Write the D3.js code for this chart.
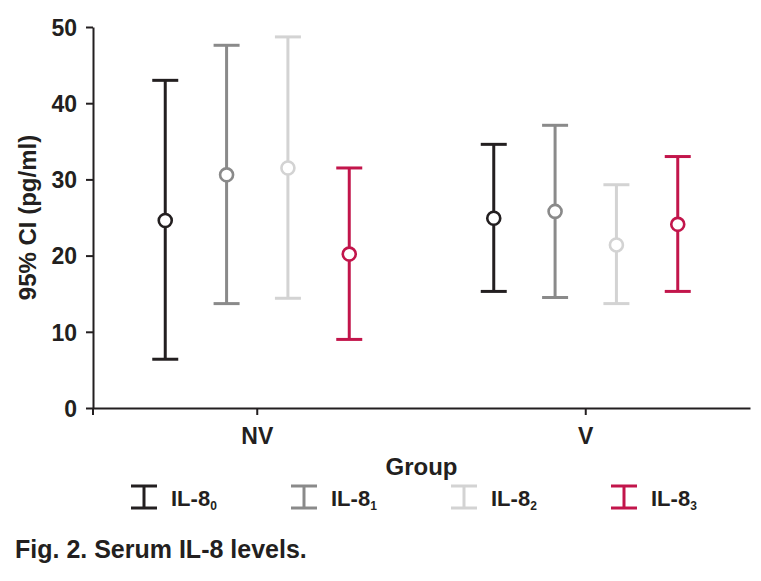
<!DOCTYPE html>
<html>
<head>
<meta charset="utf-8">
<script src="https://cdn.jsdelivr.net/npm/d3@7"></script>
<style>
body { margin: 0; background: #fff; }
text { font-family: "Liberation Sans", Arial, sans-serif; font-weight: bold; fill: #231f20; }
</style>
</head>
<body>
<svg id="chart" width="761" height="581"></svg>
<script>
var groups = ["NV", "V"];
var series = ["0", "1", "2", "3"];
var colors = ["#231f20", "#8a8a8a", "#d3d3d3", "#c2154b"];
// mean, lower, upper per series, one value per group (NV, V)
var means = [[24.6, 24.9], [30.6, 25.8], [31.5, 21.4], [20.2, 24.1]];
var lower = [[6.4, 15.3], [13.7, 14.5], [14.4, 13.7], [9.0, 15.3]];
var upper = [[43.0, 34.6], [47.6, 37.1], [48.7, 29.3], [31.5, 33.0]];
var yTicks = [0, 10, 20, 30, 40, 50];

var svg = d3.select("#chart");
var plotLeft = 93, plotRight = 750, plotTop = 27, plotBottom = 408;

var x = d3.scaleBand().domain(groups).range([plotLeft, plotRight]);
var xs = d3.scaleLinear().domain([-1.5, 1.5]).range([-92, 92]);
var y = d3.scaleLinear().domain([0, 50]).range([plotBottom, plotTop]);

// axes
var yAxis = svg.append("g")
	.attr("transform", "translate(" + plotLeft + ",0)")
	.call(d3.axisLeft(y).tickValues(yTicks).tickSize(7).tickSizeOuter(0));
var xAxis = svg.append("g")
	.attr("transform", "translate(0," + plotBottom + ")")
	.call(d3.axisBottom(x).tickSize(7).tickSizeOuter(0));

svg.selectAll(".domain, .tick line").attr("stroke", "#231f20").attr("stroke-width", 2);
yAxis.selectAll("text").attr("font-size", 23).attr("font-family", null).attr("x", -16).attr("dy", "0.36em");
xAxis.selectAll("text").attr("font-size", 23).attr("font-family", null).attr("y", 36).attr("dy", 0);

svg.append("line")
	.attr("x1", plotLeft).attr("x2", plotLeft)
	.attr("y1", plotBottom).attr("y2", plotBottom + 7)
	.attr("stroke", "#231f20").attr("stroke-width", 2);

// axis titles
svg.append("text")
	.attr("transform", "translate(36," + ((plotTop + plotBottom) / 2) + ") rotate(-90)")
	.attr("text-anchor", "middle")
	.attr("font-size", 24)
	.text("95% CI (pg/ml)");
svg.append("text")
	.attr("x", (plotLeft + plotRight) / 2).attr("y", 475)
	.attr("text-anchor", "middle")
	.attr("font-size", 24)
	.text("Group");

// error bars
var cap = 13;
series.forEach(function(s, i) {
	var g = svg.append("g")
		.attr("stroke", colors[i])
		.attr("stroke-width", 3)
		.attr("fill", "none");
	groups.forEach(function(grp, j) {
		var cx = x(grp) + x.bandwidth() / 2 + xs(i - 1.5);
		g.append("line").attr("x1", cx).attr("x2", cx).attr("y1", y(upper[i][j])).attr("y2", y(lower[i][j]));
		g.append("line").attr("x1", cx - cap).attr("x2", cx + cap).attr("y1", y(upper[i][j])).attr("y2", y(upper[i][j]));
		g.append("line").attr("x1", cx - cap).attr("x2", cx + cap).attr("y1", y(lower[i][j])).attr("y2", y(lower[i][j]));
		g.append("circle").attr("cx", cx).attr("cy", y(means[i][j])).attr("r", 6.5)
			.attr("fill", "#fff").attr("stroke-width", 2.6);
	});
});

// legend
var legend = svg.append("g");
series.forEach(function(s, i) {
	var lx = 144 + i * 160, ly = 497;
	var lg = legend.append("g").attr("stroke", colors[i]).attr("stroke-width", 3);
	lg.append("line").attr("x1", lx).attr("x2", lx).attr("y1", ly - 11).attr("y2", ly + 11);
	lg.append("line").attr("x1", lx - 13).attr("x2", lx + 13).attr("y1", ly - 11).attr("y2", ly - 11);
	lg.append("line").attr("x1", lx - 13).attr("x2", lx + 13).attr("y1", ly + 11).attr("y2", ly + 11);
	var t = legend.append("text").attr("x", lx + 27).attr("y", ly + 9).attr("font-size", 22);
	t.append("tspan").text("IL-8");
	t.append("tspan").attr("font-size", 12).attr("dy", 4).text(s);
});

svg.append("text")
	.attr("x", 15).attr("y", 558)
	.attr("font-size", 25)
	.text("Fig. 2. Serum IL-8 levels.");
</script>
</body>
</html>
